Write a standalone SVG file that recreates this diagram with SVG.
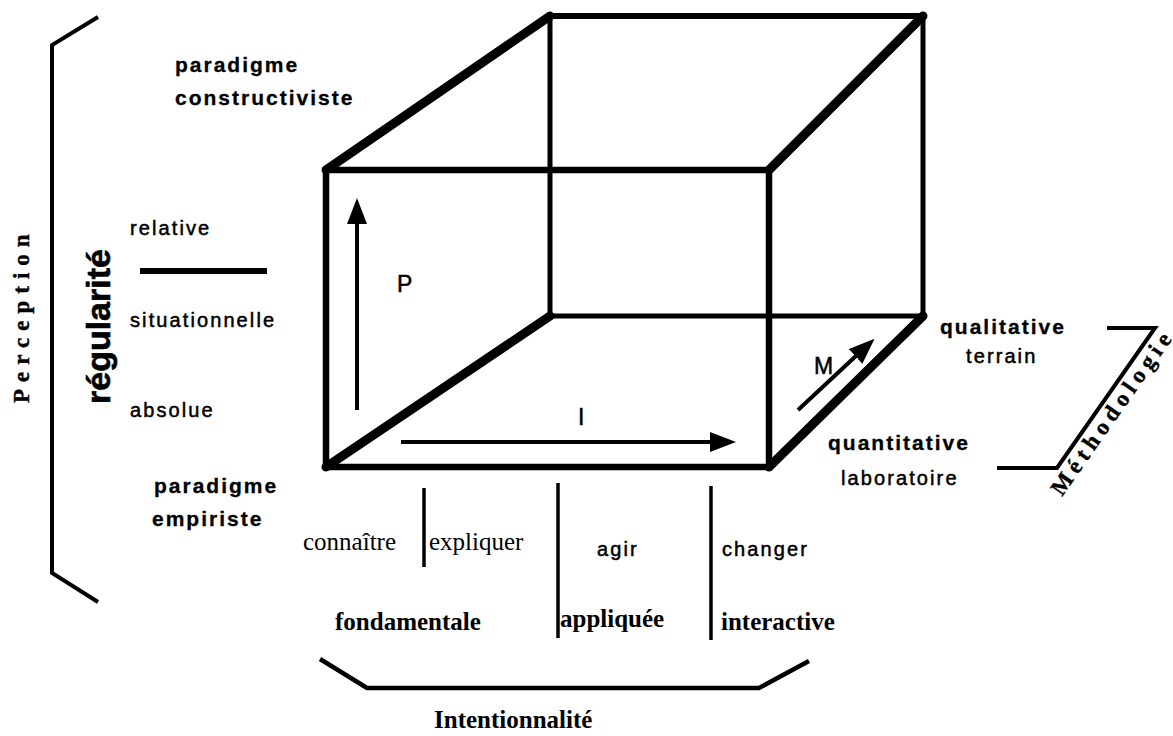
<svg xmlns="http://www.w3.org/2000/svg" width="1173" height="736" viewBox="0 0 1173 736">
  <defs>
    <style>
      .ln { fill: none; stroke: #000; stroke-linejoin: miter; }
      .sans { font-family: "Liberation Sans", Arial, sans-serif; font-size: 20px; letter-spacing: 2.1px; fill: #000; stroke: #000; stroke-width: 0.5px; }
      .sansb { font-family: "Liberation Sans", Arial, sans-serif; font-size: 21px; font-weight: bold; letter-spacing: 2px; fill: #000; stroke: #000; stroke-width: 0.3px; }
      .letter { font-family: "Liberation Sans", Arial, sans-serif; font-size: 23px; fill: #000; stroke: #000; stroke-width: 0.5px; }
      .serif { font-family: "Liberation Serif", "Times New Roman", serif; font-size: 25px; fill: #000; }
      .serifb { font-family: "Liberation Serif", "Times New Roman", serif; font-size: 25px; font-weight: bold; fill: #000; }
      .axis { font-family: "Liberation Serif", "Times New Roman", serif; font-size: 23px; font-weight: bold; fill: #000; stroke: #000; stroke-width: 0.4px; }
    </style>
    <marker id="head" viewBox="0 0 26 20" refX="2" refY="10" markerWidth="26" markerHeight="20" markerUnits="userSpaceOnUse" orient="auto">
      <path d="M0,0 L26,10 L0,20 z" fill="#000"/>
    </marker>
  </defs>
  <rect width="1173" height="736" fill="#fff"/>

  <!-- cube -->
  <g id="cube">
    <rect class="ln" x="550" y="16" width="373" height="300" stroke-width="5"/>
    <line class="ln" x1="550" y1="16" x2="923" y2="16" stroke-width="6"/>
    <rect class="ln" x="326" y="170" width="443" height="297" stroke-width="6.5"/>
    <g class="ln" stroke-width="9" stroke-linecap="round">
      <line x1="326" y1="170" x2="550" y2="16"/>
      <line x1="769" y1="170" x2="923" y2="16"/>
      <line x1="769" y1="467" x2="923" y2="316"/>
      <line x1="326" y1="467" x2="550" y2="316"/>
    </g>
  </g>

  <!-- axis arrows, separators and brackets -->
  <g id="connectors" class="ln">
    <line id="arrow-p" x1="357" y1="410" x2="357" y2="222" stroke-width="4" marker-end="url(#head)"/>
    <line id="arrow-i" x1="401" y1="442" x2="712" y2="442" stroke-width="4" marker-end="url(#head)"/>
    <line id="arrow-m" x1="798" y1="410" x2="857" y2="355" stroke-width="4" marker-end="url(#head)"/>
    <line x1="140" y1="271" x2="267" y2="271" stroke-width="6"/>
    <line x1="424" y1="488" x2="424" y2="567" stroke-width="3.5"/>
    <line x1="558" y1="483" x2="558" y2="638" stroke-width="3.5"/>
    <line x1="711" y1="486" x2="711" y2="640" stroke-width="3.5"/>
    <path id="bracket-perception" d="M98,17 L52,45 L52,573 L98,602" stroke-width="4"/>
    <path id="bracket-intention" d="M320,659 L367,688 L759,688 L809,661" stroke-width="4.5"/>
    <path id="bracket-methodo" d="M1107,328 L1155,328 L1057,468 L997,468" stroke-width="4"/>
  </g>

  <!-- axis letters -->
  <g id="axis-letters" class="letter">
    <text x="397" y="292">P</text>
    <text x="578" y="425">I</text>
    <text x="814" y="374">M</text>
  </g>

  <!-- perception axis -->
  <g id="perception">
    <text class="axis" transform="translate(29,403) rotate(-90)" letter-spacing="7">Perception</text>
    <text transform="translate(110,404) rotate(-90)" font-family="Liberation Sans, Arial, sans-serif" font-size="34" font-weight="bold" stroke="#000" stroke-width="0.6">régularité</text>
    <text class="sansb" x="175" y="72">paradigme</text>
    <text class="sansb" x="175" y="105">constructiviste</text>
    <text class="sans" x="130" y="235">relative</text>
    <text class="sans" x="130" y="327">situationnelle</text>
    <text class="sans" x="130" y="417">absolue</text>
    <text class="sansb" x="154" y="493">paradigme</text>
    <text class="sansb" x="152" y="526">empiriste</text>
  </g>

  <!-- intentionality axis -->
  <g id="intention">
    <text class="serif" x="303" y="550">connaître</text>
    <text class="serif" x="429" y="550">expliquer</text>
    <text class="sans" x="597" y="556">agir</text>
    <text class="sans" x="722" y="556">changer</text>
    <text class="serifb" x="335" y="630">fondamentale</text>
    <text class="serifb" x="560" y="627">appliquée</text>
    <text class="serifb" x="721" y="630">interactive</text>
    <text class="serifb" x="434" y="728" font-size="24">Intentionnalité</text>
  </g>

  <!-- methodology axis -->
  <g id="methodologie">
    <text class="sansb" x="940" y="334">qualitative</text>
    <text class="sans" x="966" y="363">terrain</text>
    <text class="sansb" x="828" y="450">quantitative</text>
    <text class="sans" x="841" y="485">laboratoire</text>
    <text class="axis" transform="translate(1062,497) rotate(-55)" letter-spacing="5.3">Méthodologie</text>
  </g>
</svg>
